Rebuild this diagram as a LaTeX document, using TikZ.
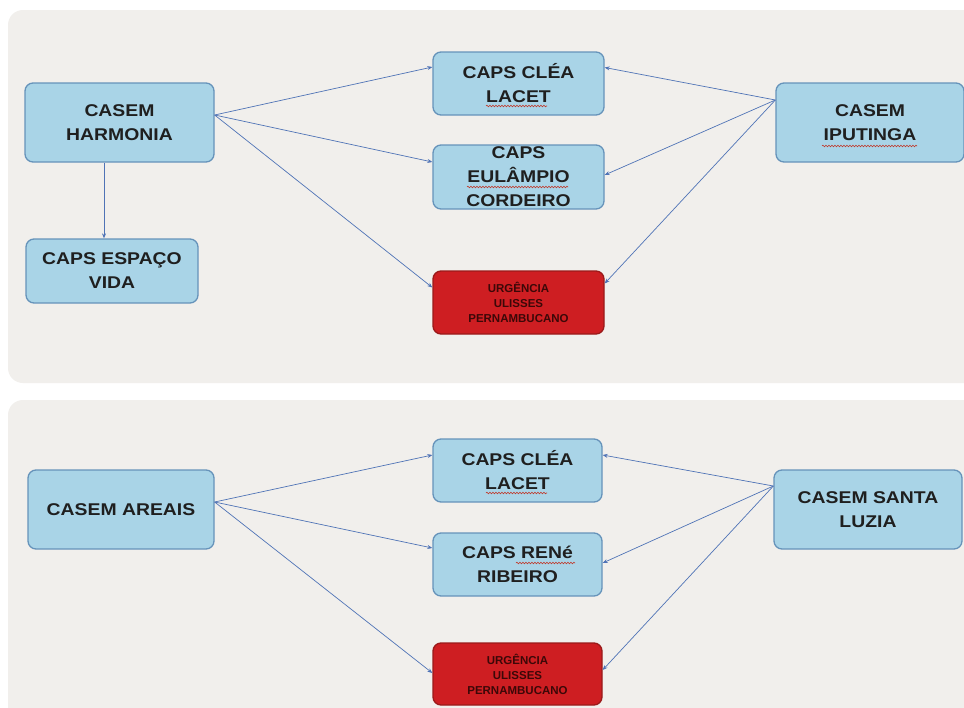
\documentclass[tikz,border=0pt]{standalone}
\usepackage{fontspec}
\setmainfont{Liberation Sans}
\newfontfamily\bxfont{Liberation Sans}[FakeStretch=1.14]
\usetikzlibrary{arrows.meta,decorations.pathmorphing,calc}
\definecolor{panel}{HTML}{F1EFEC}
\definecolor{boxfill}{HTML}{A9D4E7}
\definecolor{boxline}{HTML}{6693BA}
\definecolor{redfill}{HTML}{CE1E22}
\definecolor{redline}{HTML}{9A1A1A}
\definecolor{redtext}{HTML}{3C0808}
\definecolor{arrowc}{HTML}{4F73B6}
\definecolor{wavy}{HTML}{C0392B}
\begin{document}
\begin{tikzpicture}[x=1pt,y=-1pt,
 bluebox/.style={draw=boxline, line width=1.3pt, fill=boxfill, rounded corners=8pt, align=center, inner sep=0pt, text=black!88, font=\bxfont\bfseries\fontsize{17}{24}\selectfont},
 redbox/.style={draw=redline, line width=1.3pt, fill=redfill, rounded corners=8pt, align=center, inner sep=0pt, text=redtext, font=\bfseries\fontsize{11.5}{15}\selectfont},
 arr/.style={draw=arrowc, line width=0.7pt, -{Stealth[length=5pt,width=4pt]}},
 spell/.style={draw=wavy, line width=0.6pt, decorate, decoration={snake, amplitude=0.8pt, segment length=3pt}},
 panelbg/.style={fill=panel, rounded corners=15pt}]
\clip (0,0) rectangle (964,707);
\fill[white] (0,0) rectangle (964,707);
\fill[panelbg] (8,10) rectangle (1000,383);
\fill[panelbg] (8,400) rectangle (1000,760);

% ---- top panel ----
\node[bluebox, minimum width=189pt, minimum height=79pt] (harm) at (119.5,122.5) {CASEM\\HARMONIA};
\node[bluebox, minimum width=171pt, minimum height=63pt] (clea) at (518.5,83.5) {CAPS CLÉA\\LACET};
\node[bluebox, minimum width=171pt, minimum height=64pt] (eul) at (518.5,177) {CAPS\\EULÂMPIO\\CORDEIRO};
\node[bluebox, minimum width=172pt, minimum height=64pt] (esp) at (112,271) {CAPS ESPAÇO\\VIDA};
\node[redbox, minimum width=171pt, minimum height=63pt] (urg) at (518.5,302.5) {URGÊNCIA\\ULISSES\\PERNAMBUCANO};
\node[bluebox, minimum width=188pt, minimum height=79pt] (ipu) at (870,122.5) {CASEM\\IPUTINGA};

\coordinate (hs) at ([yshift=7.5pt]harm.east);
\draw[arr] (hs) -- ([yshift=16.5pt]clea.west);
\draw[arr] (hs) -- ([yshift=15pt]eul.west);
\draw[arr] (hs) -- ([yshift=15pt]urg.west);
\draw[arr] ([xshift=-15.5pt]harm.south) coordinate (ds) -- (ds |- esp.north);
\coordinate (is) at ([yshift=22.5pt]ipu.west);
\draw[arr] (is) -- ([yshift=16pt]clea.east);
\draw[arr] (is) -- ([yshift=2pt]eul.east);
\draw[arr] (is) -- ([yshift=19pt]urg.east);

% ---- bottom panel ----
\node[bluebox, minimum width=186pt, minimum height=79pt] (are) at (121,509.5) {CASEM AREAIS};
\node[bluebox, minimum width=169pt, minimum height=63pt] (clea2) at (517.5,470.5) {CAPS CLÉA\\LACET};
\node[bluebox, minimum width=169pt, minimum height=63pt] (rene) at (517.5,564.5) {CAPS RENé\\RIBEIRO};
\node[redbox, minimum width=169pt, minimum height=62pt] (urg2) at (517.5,674) {URGÊNCIA\\ULISSES\\PERNAMBUCANO};
\node[bluebox, minimum width=188pt, minimum height=79pt] (sl) at (868,509.5) {CASEM SANTA\\LUZIA};

\coordinate (as) at ([yshift=7.5pt]are.east);
\draw[arr] (as) -- ([yshift=15.5pt]clea2.west);
\draw[arr] (as) -- ([yshift=16.5pt]rene.west);
\draw[arr] (as) -- ([yshift=1pt]urg2.west);
\coordinate (ss) at ([yshift=23.5pt]sl.west);
\draw[arr] (ss) -- ([yshift=15.5pt]clea2.east);
\draw[arr] (ss) -- ([yshift=1.5pt]rene.east);
\draw[arr] (ss) -- ([yshift=4pt]urg2.east);

% ---- spell-check underlines ----
\draw[spell] (486,106) -- (547,106);
\draw[spell] (467,187) -- (568,187);
\draw[spell] (822,146) -- (917,146);
\draw[spell] (486,493) -- (547,493);
\draw[spell] (516,563) -- (575,563);
\end{tikzpicture}
\end{document}
